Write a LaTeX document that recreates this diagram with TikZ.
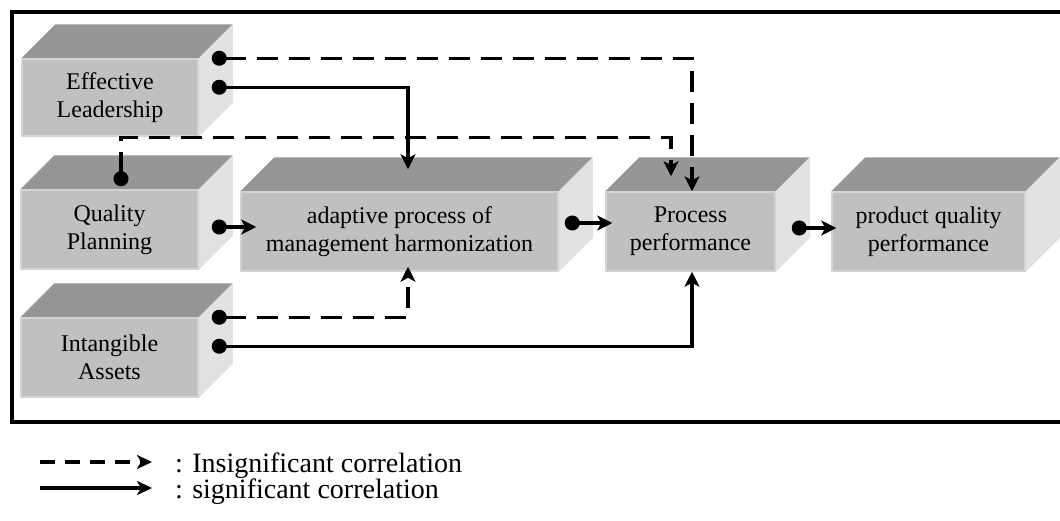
\documentclass[tikz,border=0pt]{standalone}
\usepackage{fontspec}
\setmainfont{Liberation Serif}
\usetikzlibrary{arrows.meta,calc,backgrounds}
\definecolor{topc}{RGB}{150,150,150}
\definecolor{frontc}{RGB}{192,192,192}
\definecolor{sidec}{RGB}{226,226,226}
\definecolor{edgec}{RGB}{212,212,212}
\newcommand{\cubefaces}[1]{%
  \begin{pgfonlayer}{background}
  \fill[topc] (#1.north west) -- ++(34,-34) -- ($(#1.north east)+(34,-34)$) -- (#1.north east) -- cycle;
  \fill[sidec] (#1.north east) -- ++(34,-34) -- ($(#1.south east)+(34,-34)$) -- (#1.south east) -- cycle;
  \end{pgfonlayer}}
\tikzset{
  box/.style={fill=frontc, draw=edgec, line width=1.5pt, align=center, inner sep=0pt,
    font=\fontsize{24}{28}\selectfont},
  conn/.style={line width=3.5pt, {Circle[length=15pt,width=15pt]}-{Stealth[length=15pt,width=15pt,inset=4pt]}},
  sig/.style={conn},
  insig/.style={conn, dash pattern=on 21pt off 11pt},
  legsig/.style={line width=3.5pt, -{Stealth[length=15pt,width=14pt,inset=4pt]}},
  leginsig/.style={legsig, dash pattern=on 15pt off 10pt},
  legtext/.style={anchor=base west, inner sep=0pt, font=\fontsize{28}{32}\selectfont},
}
\begin{document}
\begin{tikzpicture}[x=1pt,y=-1pt]
\useasboundingbox (0,0) rectangle (1060,520);
% frame
\draw[line width=4pt] (1075,12) -- (12,12) -- (12,422) -- (1075,422);
% boxes
\node[box, minimum width=176pt, minimum height=77pt] (EL) at (110,97.5) {Effective\\Leadership};
\node[box, minimum width=177pt, minimum height=79pt] (QP) at (109.5,229.5) {Quality\\Planning};
\node[box, minimum width=177pt, minimum height=79pt] (IA) at (109.5,357.5) {Intangible\\Assets};
\node[box, minimum width=317pt, minimum height=79pt] (AD) at (399.5,231.5) {adaptive process of\\management harmonization};
\node[box, minimum width=169pt, minimum height=79pt] (PP) at (690.5,231.5) {Process\\performance};
\node[box, minimum width=193pt, minimum height=79pt] (PQ) at (928.5,231.5) {product quality\\performance};
\cubefaces{EL}\cubefaces{QP}\cubefaces{IA}\cubefaces{AD}\cubefaces{PP}\cubefaces{PQ}
% connectors
\draw[insig] ($(EL.north east)+(13,0)$) -| ($(PP.north)+(1.5,0)$);
\draw[sig] ($(EL.north east)+(13,29)$) -| ($(AD.north)+(8.5,-22)$);
\draw[insig] ($(QP.north)+(11.5,-3)$) -- ++(0,-49) -| ($(PP.north)+(-19.5,-15)$);
\draw[sig] ($(QP.east)+(13,-2.5)$) -- ($(AD.west)+(16,-4.5)$);
\draw[sig] ($(AD.east)+(6,-8.5)$) -- ($(PP.west)+(7,-8.5)$);
\draw[sig] ($(PP.east)+(16,-3.5)$) -- ($(PQ.west)+(5,-3.5)$);
\draw[insig] ($(IA.north east)+(13,0)$) -| ($(AD.south)+(8.5,-5)$);
\draw[sig] ($(IA.north east)+(13,29)$) -| ($(PP.south)+(1.5,0)$);
% legend
\coordinate (l1s) at (40,462); \coordinate (l1e) at (152,462);
\coordinate (l2s) at (40,488); \coordinate (l2e) at (152,488);
\draw[leginsig] (l1s) -- (l1e);
\draw[legsig] (l2s) -- (l2e);
\node[legtext] (t1) at (175,472) {: Insignificant correlation};
\node[legtext] (t2) at (175,498) {: significant correlation};
\end{tikzpicture}
\end{document}
